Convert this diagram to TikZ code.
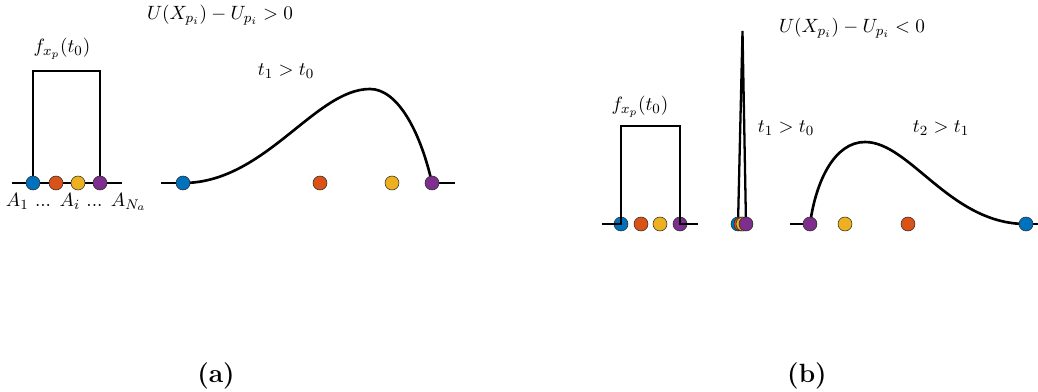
\documentclass[tikz,border=0pt,11pt]{standalone}
\usepackage{amsmath,amssymb}
\usepackage{tikz}
\usepackage{xcolor}
\usetikzlibrary{positioning,backgrounds}
\definecolor{AgBlue}{HTML}{0072BD}
\definecolor{AgOrange}{HTML}{D95319}
\definecolor{AgYellow}{HTML}{EDB120}
\definecolor{AgPurple}{HTML}{7E2F8E}
\tikzset{
    agent/.style={
        circle, draw=black!85, line width=0.3pt,
        fill=#1, minimum size=0.28cm, inner sep=0pt
    },
    pdfline/.style={
        line width=1.5pt, black, line join=miter
    },
    subcap/.style={
        font=\fontsize{15}{18}\selectfont\bfseries
    },
}

\begin{document}
\begin{tikzpicture}[x=0.02cm, y=-0.02cm]
    \useasboundingbox (0,0) rectangle (1038,392);

    % (a) agents at t0
    \node[agent=AgBlue]   (a1) at (33,183) {};
    \node[agent=AgOrange] (a2) at (56,183) {};
    \node[agent=AgYellow] (a3) at (78,183) {};
    \node[agent=AgPurple] (a4) at (100,183) {};
    \coordinate (aL)  at (12,183);
    \coordinate (aR)  at (122,183);
    \coordinate (aTL) at (33,71);
    \coordinate (aTR) at (100,71);
    \begin{scope}[on background layer]
        \draw[pdfline] (aL) -- (aR);
        \draw[pdfline] (a1.center) -- (aTL) -- (aTR) -- (a4.center);
    \end{scope}
    \node (fa) at (62,49) {$f_{x_p}(t_0)$};
    \node (la) at (76,202) {$A_1$ ... $A_i$ ... $A_{N_a}$};

    % (a) agents at t1
    \node[agent=AgBlue]   (a5) at (183,183) {};
    \node[agent=AgOrange] (a6) at (320,183) {};
    \node[agent=AgYellow] (a7) at (392,183) {};
    \node[agent=AgPurple] (a8) at (432,183) {};
    \coordinate (bL)   at (161,183);
    \coordinate (bR)   at (455,183);
    \coordinate (peak) at (370,89);
    \begin{scope}[on background layer]
        \draw[pdfline] (bL) -- (a5.center);
        \draw[pdfline] (a8.center) -- (bR);
        \draw[pdfline] (a5.center) .. controls (265,183) and (315,89) .. (peak)
            .. controls (397,89) and (420,130) .. (a8.center);
    \end{scope}
    \node (ua) at (220,15) {$U(X_{p_i}) - U_{p_i} > 0$};
    \node (ta) at (286,71) {$t_1 > t_0$};
    \node[subcap] (capa) at (216,376) {(a)};

    % (b) agents at t0
    \node[agent=AgBlue]   (b1) at (621,224) {};
    \node[agent=AgOrange] (b2) at (641,224) {};
    \node[agent=AgYellow] (b3) at (660,224) {};
    \node[agent=AgPurple] (b4) at (680,224) {};
    \coordinate (cL)  at (602,224);
    \coordinate (cR)  at (698,224);
    \coordinate (bTL) at (621,126);
    \coordinate (bTR) at (680,126);
    \draw[pdfline] (cL) -- (b1.center) -- (bTL) -- (bTR) -- (b4.center) -- (cR);
    \node (fb) at (640,107) {$f_{x_p}(t_0)$};

    % (b) agents at t1 (collapsed)
    \node[agent=AgBlue]   (b5) at (738,224) {};
    \node[agent=AgOrange] (b6) at (741,224) {};
    \node[agent=AgYellow] (b7) at (743,224) {};
    \node[agent=AgPurple] (b8) at (746,224) {};
    \coordinate (spike) at (742.5,31);
    \begin{scope}[on background layer]
        \draw[pdfline, line width=1.3pt] (b5.center) -- (spike) -- (b8.center);
    \end{scope}
    \node (tb1) at (786,128) {$t_1 > t_0$};

    % (b) agents at t2
    \node[agent=AgPurple] (b9)  at (810,224) {};
    \node[agent=AgYellow] (b10) at (845,224) {};
    \node[agent=AgOrange] (b11) at (908,224) {};
    \node[agent=AgBlue]   (b12) at (1026,224) {};
    \coordinate (dL)    at (790,224);
    \coordinate (dR)    at (1038,224);
    \coordinate (peak2) at (865,142);
    \begin{scope}[on background layer]
        \draw[pdfline] (dL) -- (b9.center);
        \draw[pdfline] (b12.center) -- (dR);
        \draw[pdfline] (b9.center) .. controls (816,180) and (835,142) .. (peak2)
            .. controls (910,142) and (950,224) .. (b12.center);
    \end{scope}
    \node (ub) at (852,28) {$U(X_{p_i}) - U_{p_i} < 0$};
    \node (tb2) at (941,128) {$t_2 > t_1$};
    \node[subcap] (capb) at (807,376) {(b)};
\end{tikzpicture}
\end{document}
